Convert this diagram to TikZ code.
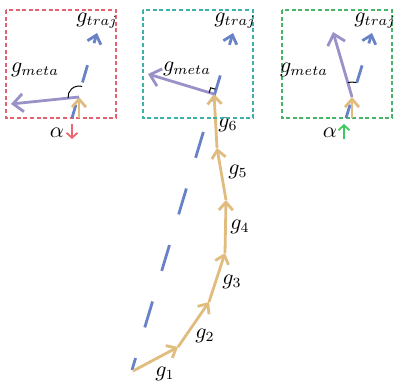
\documentclass[tikz,border=0pt]{standalone}
\usetikzlibrary{arrows.meta}

\definecolor{stepcol}{RGB}{224,188,126}
\definecolor{trajcol}{RGB}{104,130,200}
\definecolor{metacol}{RGB}{152,146,200}
\definecolor{redbox}{RGB}{226,98,112}
\definecolor{cyanbox}{RGB}{62,176,170}
\definecolor{greenbox}{RGB}{72,180,104}
\definecolor{redup}{RGB}{236,104,112}
\definecolor{greenup}{RGB}{64,200,96}

\begin{document}
\begin{tikzpicture}[x=0.5pt,y=-0.5pt,
  barb/.style={-{Straight Barb[length=4pt,width=7pt]}},
  gstep/.style={barb,line width=1.4pt,draw=stepcol},
  gtraj/.style={barb,line width=1.4pt,draw=trajcol},
  gmeta/.style={-{Straight Barb[length=5pt,width=9pt]},line width=1.4pt,draw=metacol},
  zoombox/.style={line width=0.6pt,dash pattern=on 2pt off 1.3pt},
  alphaarr/.style={-{Straight Barb[length=2.5pt,width=5.5pt]},line width=0.9pt},
  every node/.style={font=\fontsize{10.5}{12}\selectfont}]

\useasboundingbox (0,0) rectangle (394,381);

% trajectory
\coordinate (p0) at (133,371);
\coordinate (p1) at (178,347);
\coordinate (p2) at (209,302);
\coordinate (p3) at (225,253);
\coordinate (p4) at (226,200);
\coordinate (p5) at (217,148);
\coordinate (p6) at (214,94);
\coordinate (b0) at (132,370);
\coordinate (b1) at (233,33);

\draw[gtraj, dash pattern=on 13.5pt off 16pt, dash phase=7.25pt] (b0) -- (b1);

\draw[gstep] (p0) -- (p1);
\draw[gstep] (p1) -- (p2);
\draw[gstep] (p2) -- (p3);
\draw[gstep] (p3) -- (p4);
\draw[gstep] (p4) -- (p5);
\draw[gstep] (p5) -- (p6);

\node (g1) at (165,374) {$g_1$};
\node (g2) at (205,336) {$g_2$};
\node (g3) at (232,282) {$g_3$};
\node (g4) at (240,227) {$g_4$};
\node (g5) at (238,172) {$g_5$};
\node (g6) at (228,125) {$g_6$};

% cyan box
\draw[zoombox, cyanbox] (143,10) rectangle (253,118);
\coordinate (cmeta) at (148,74);
\draw[gmeta] (p6) -- (cmeta);
\draw[line width=0.5pt] (215.4,89.2) -- (210.7,87.8) -- (209.2,92.6);
\node (cm) at (187,69) {$g_{meta}$};
\node (ct) at (235,21) {$g_{traj}$};

% red box
\draw[zoombox, redbox] (6,10) rectangle (116,118);
\coordinate (rb0) at (72,118);
\coordinate (rb1) at (97,33);
\coordinate (rbase) at (79,118);
\coordinate (rtip) at (79,97);
\coordinate (rmeta) at (11,104);
\draw[gtraj, dash pattern=on 9pt off 11.5pt, dash phase=2pt] (rb0) -- (rb1);
\draw[gstep] (rbase) -- (rtip);
\draw[gmeta] (rtip) -- (rmeta);
\draw[line width=0.5pt] (rtip) ++(-73.6:11) arc[start angle=-73.6, end angle=-185.9, radius=11];
\node (rm) at (35,70) {$g_{meta}$};
\node (rt) at (97,21) {$g_{traj}$};
\node (ra) at (57,133) {$\alpha$};
\coordinate (ra0) at (72,124);
\coordinate (ra1) at (72,139);
\draw[alphaarr, redup] (ra0) -- (ra1);

% green box
\draw[zoombox, greenbox] (282,10) rectangle (392,118);
\coordinate (nb0) at (346,118);
\coordinate (nb1) at (372,33);
\coordinate (nbase) at (352,118);
\coordinate (ntip) at (352,97);
\coordinate (nmeta) at (333,32);
\draw[gtraj, dash pattern=on 9pt off 11.5pt, dash phase=2pt] (nb0) -- (nb1);
\draw[gstep] (nbase) -- (ntip);
\draw[gmeta] (ntip) -- (nmeta);
\draw[line width=0.5pt] (ntip) ++(-73:15) arc[start angle=-73, end angle=-106.3, radius=15];
\node (nm) at (304,70) {$g_{meta}$};
\node (nt) at (375,21) {$g_{traj}$};
\node (na) at (330,133) {$\alpha$};
\coordinate (na0) at (344,139);
\coordinate (na1) at (344,124);
\draw[alphaarr, greenup] (na0) -- (na1);

\end{tikzpicture}
\end{document}
